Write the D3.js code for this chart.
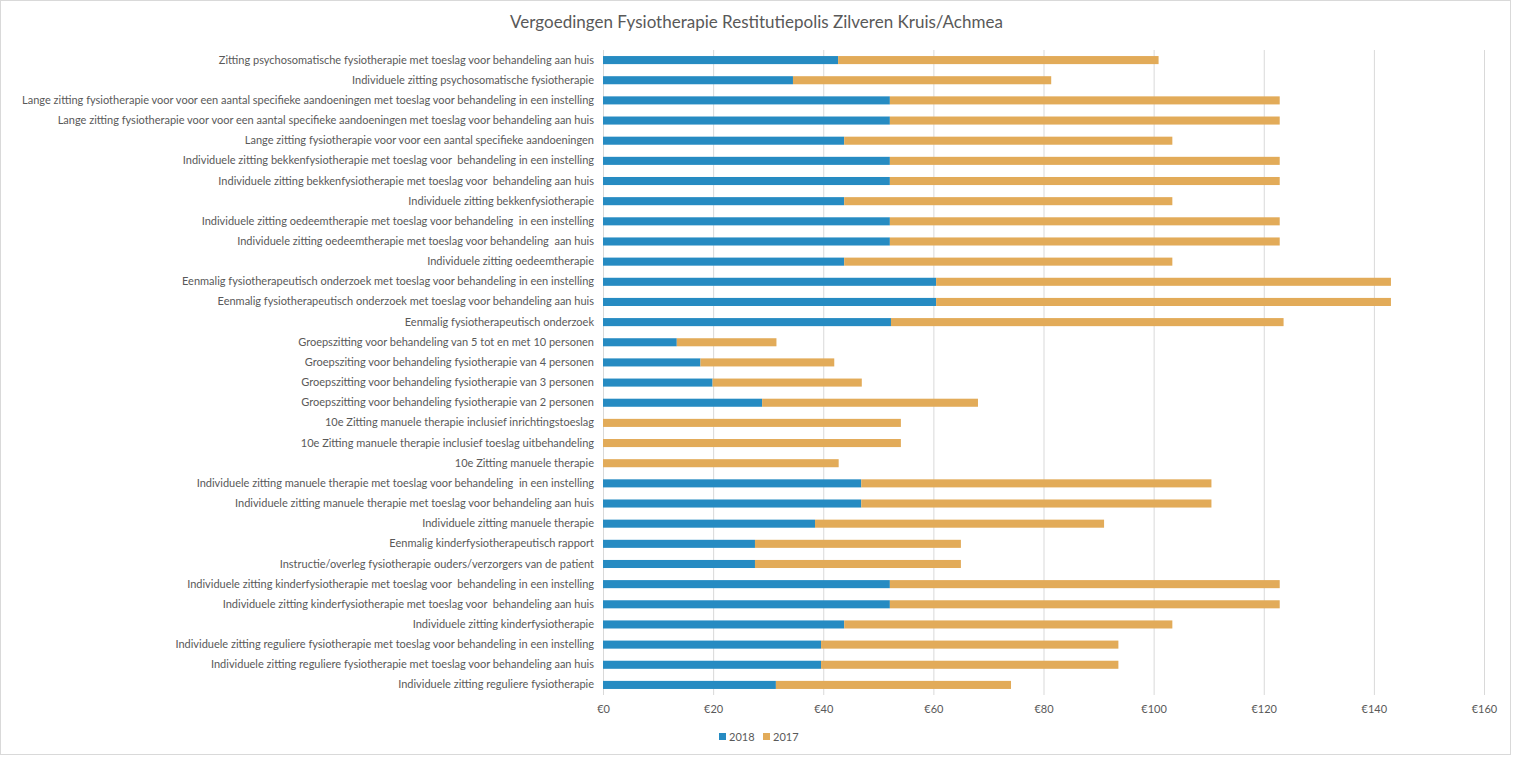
<!DOCTYPE html>
<html>
<head>
<meta charset="utf-8">
<script src="https://d3js.org/d3.v7.min.js"></script>
<style>
  body { margin: 0; background: #fff; }
  text { font-family: Lato, "Open Sans", sans-serif; fill: #595959; }
</style>
</head>
<body>
<div id="chart"></div>
<script>
var svgWidth = 1513;
var svgHeight = 757;

var margin = {
  top: 50,
  right: 29,
  bottom: 62,
  left: 603
};

var width = svgWidth - margin.left - margin.right;
var height = svgHeight - margin.top - margin.bottom;

// categories, top to bottom as in the chart
var categories = [
  "Zitting psychosomatische fysiotherapie met toeslag voor behandeling aan huis",
  "Individuele zitting psychosomatische fysiotherapie",
  "Lange zitting fysiotherapie voor voor een aantal specifieke aandoeningen met toeslag voor behandeling in een instelling",
  "Lange zitting fysiotherapie voor voor een aantal specifieke aandoeningen met toeslag voor behandeling aan huis",
  "Lange zitting fysiotherapie voor voor een aantal specifieke aandoeningen",
  "Individuele zitting bekkenfysiotherapie met toeslag voor  behandeling in een instelling",
  "Individuele zitting bekkenfysiotherapie met toeslag voor  behandeling aan huis",
  "Individuele zitting bekkenfysiotherapie",
  "Individuele zitting oedeemtherapie met toeslag voor behandeling  in een instelling",
  "Individuele zitting oedeemtherapie met toeslag voor behandeling  aan huis",
  "Individuele zitting oedeemtherapie",
  "Eenmalig fysiotherapeutisch onderzoek met toeslag voor behandeling in een instelling",
  "Eenmalig fysiotherapeutisch onderzoek met toeslag voor behandeling aan huis",
  "Eenmalig fysiotherapeutisch onderzoek",
  "Groepszitting voor behandeling van 5 tot en met 10 personen",
  "Groepsziting voor behandeling fysiotherapie van 4 personen",
  "Groepszitting voor behandeling fysiotherapie van 3 personen",
  "Groepszitting voor behandeling fysiotherapie van 2 personen",
  "10e Zitting manuele therapie inclusief inrichtingstoeslag",
  "10e Zitting manuele therapie inclusief toeslag uitbehandeling",
  "10e Zitting manuele therapie",
  "Individuele zitting manuele therapie met toeslag voor behandeling  in een instelling",
  "Individuele zitting manuele therapie met toeslag voor behandeling aan huis",
  "Individuele zitting manuele therapie",
  "Eenmalig kinderfysiotherapeutisch rapport",
  "Instructie/overleg fysiotherapie ouders/verzorgers van de patient",
  "Individuele zitting kinderfysiotherapie met toeslag voor  behandeling in een instelling",
  "Individuele zitting kinderfysiotherapie met toeslag voor  behandeling aan huis",
  "Individuele zitting kinderfysiotherapie",
  "Individuele zitting reguliere fysiotherapie met toeslag voor behandeling in een instelling",
  "Individuele zitting reguliere fysiotherapie met toeslag voor behandeling aan huis",
  "Individuele zitting reguliere fysiotherapie"
];

// series values (euro), same order as categories
var values2018 = [
  42.7, 34.5, 52.1, 52.1, 43.8, 52.1, 52.1, 43.8, 52.1, 52.1, 43.8,
  60.5, 60.5, 52.3, 13.4, 17.7, 19.9, 28.9, 0, 0, 0,
  46.9, 46.9, 38.5, 27.6, 27.6, 52.1, 52.1, 43.8, 39.6, 39.6, 31.4
];
var values2017 = [
  58.2, 46.9, 70.8, 70.8, 59.6, 70.8, 70.8, 59.6, 70.8, 70.8, 59.6,
  82.6, 82.6, 71.3, 18.1, 24.3, 27.1, 39.2, 54.1, 54.1, 42.8,
  63.6, 63.6, 52.5, 37.4, 37.4, 70.8, 70.8, 59.6, 54.0, 54.0, 42.7
];
var seriesNames = ["2018", "2017"];
var seriesColors = ["#268bc2", "#e2ab59"];
var xTicks = [0, 20, 40, 60, 80, 100, 120, 140, 160];

var svg = d3
  .select("#chart")
  .append("svg")
  .attr("width", svgWidth)
  .attr("height", svgHeight);

// chart area border
svg.append("rect")
  .attr("x", 0.5)
  .attr("y", 0.5)
  .attr("width", svgWidth - 3)
  .attr("height", svgHeight - 3)
  .attr("fill", "none")
  .attr("stroke", "#d9d9d9");

// title
svg.append("text")
  .attr("x", svgWidth / 2)
  .attr("y", 28)
  .attr("text-anchor", "middle")
  .attr("font-size", "17px")
  .text("Vergoedingen Fysiotherapie Restitutiepolis Zilveren Kruis/Achmea");

var chartGroup = svg.append("g")
  .attr("transform", `translate(${margin.left}, ${margin.top})`);

// build stack rows
var rows = categories.map(function (c, i) {
  return { cat: c, "2018": values2018[i], "2017": values2017[i] };
});
var stacked = d3.stack().keys(seriesNames)(rows);

var xScale = d3.scaleLinear()
  .domain([0, 160])
  .range([0, width]);

var yScale = d3.scaleBand()
  .domain(categories)
  .range([0, height])
  .paddingInner(0.6)
  .paddingOuter(0.3);

// gridlines
chartGroup.append("g")
  .selectAll("line")
  .data(xTicks)
  .enter()
  .append("line")
  .attr("x1", d => xScale(d) + 0.5)
  .attr("x2", d => xScale(d) + 0.5)
  .attr("y1", 0)
  .attr("y2", height)
  .attr("stroke", "#d9d9d9")
  .attr("stroke-width", 1);

// x axis labels
var bottomAxis = d3.axisBottom(xScale)
  .tickValues(xTicks)
  .tickSize(0)
  .tickPadding(10)
  .tickFormat(d => "€" + d);

var xAxis = chartGroup.append("g")
  .attr("transform", `translate(0, ${height})`)
  .call(bottomAxis);
xAxis.select(".domain").remove();
xAxis.selectAll("text")
  .attr("font-size", "11px")
  .attr("fill", "#595959");

// y axis labels
var leftAxis = d3.axisLeft(yScale)
  .tickSize(0)
  .tickPadding(9);

var yAxis = chartGroup.append("g")
  .call(leftAxis);
yAxis.select(".domain").remove();
yAxis.selectAll("text")
  .attr("font-size", "11px")
  .attr("fill", "#595959")
  .style("white-space", "pre");

// shrink label font if the widest label does not fit the left margin
var widest = d3.max(yAxis.selectAll("text").nodes(), n => n.getComputedTextLength());
if (widest > margin.left - 17) {
  yAxis.selectAll("text").attr("font-size", (11 * (margin.left - 17) / widest) + "px");
}

// bars
chartGroup.selectAll(".series")
  .data(stacked)
  .enter()
  .append("g")
  .attr("class", "series")
  .attr("fill", (d, i) => seriesColors[i])
  .selectAll("rect")
  .data(d => d)
  .enter()
  .append("rect")
  .attr("x", d => xScale(d[0]))
  .attr("y", d => yScale(d.data.cat))
  .attr("width", d => xScale(d[1]) - xScale(d[0]))
  .attr("height", yScale.bandwidth());

// legend
var legend = svg.append("g")
  .attr("transform", "translate(719, 737)");

var legendItems = legend.selectAll("g")
  .data(seriesNames)
  .enter()
  .append("g")
  .attr("transform", (d, i) => `translate(${i * 44}, 0)`);

legendItems.append("rect")
  .attr("x", 0)
  .attr("y", -4)
  .attr("width", 7)
  .attr("height", 7)
  .attr("fill", (d, i) => seriesColors[i]);

legendItems.append("text")
  .attr("x", 10)
  .attr("y", 4)
  .attr("font-size", "11px")
  .text(d => d);
</script>
</body>
</html>
